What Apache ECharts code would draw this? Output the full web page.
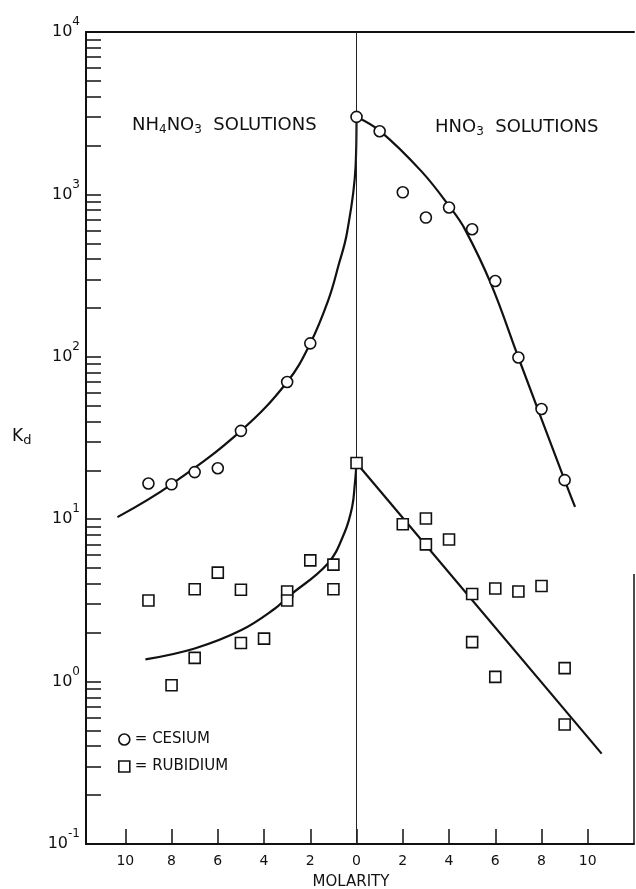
<!DOCTYPE html>
<html>
<head>
<meta charset="utf-8">
<script src="https://cdn.jsdelivr.net/npm/echarts@6/dist/echarts.min.js"></script>
<style>
  html, body { margin: 0; padding: 0; background: #fff; }
  #chart { width: 636px; height: 889px; }
</style>
</head>
<body>
<div id="chart"></div>
<script>
// Distribution coefficients Kd versus molarity of the eluting solution.
// NH4NO3 solutions are plotted to the left of zero, HNO3 solutions to the right.

// Cesium measurements
const csNH4NO3Molarity = [9, 8, 7, 6, 5, 3, 2];
const csNH4NO3Kd = [16.6, 16.4, 19.5, 20.6, 35, 70, 121];
const csHNO3Molarity = [0, 1, 2, 3, 4, 5, 6, 7, 8, 9];
const csHNO3Kd = [3000, 2450, 1030, 720, 830, 610, 293, 99, 47.7, 17.4];

// Rubidium measurements
const rbNH4NO3Molarity = [9, 8, 7, 7, 6, 5, 5, 4, 3, 3, 2, 1, 1];
const rbNH4NO3Kd = [3.16, 0.95, 3.70, 1.40, 4.69, 3.68, 1.73, 1.84, 3.59, 3.16, 5.58, 5.25, 3.70];
const rbHNO3Molarity = [0, 2, 3, 3, 4, 5, 5, 6, 6, 7, 8, 9, 9];
const rbHNO3Kd = [22.2, 9.3, 10.1, 7.0, 7.5, 3.46, 1.75, 3.74, 1.07, 3.59, 3.88, 1.21, 0.544];

// Hand-fitted trend curves
const csNH4NO3CurveM = [10.34, 8, 5, 3, 2, 1.21, 0.79, 0.41, 0.04, 0];
const csNH4NO3CurveKd = [10.3, 16.4, 35, 70, 121, 226, 361, 583, 1490, 3000];
const csHNO3CurveM = [0, 1.02, 2.8, 4.06, 4.69, 5.82, 7.0, 9.0, 9.45];
const csHNO3CurveKd = [3000, 2455, 1391, 828, 609, 280, 99, 17.4, 11.9];
const rbNH4NO3CurveM = [9.13, 7.0, 5.0, 3.54, 2.97, 1.25, 0.53, 0.19, 0.07, 0];
const rbNH4NO3CurveKd = [1.37, 1.60, 2.07, 2.81, 3.32, 5.32, 8.2, 11.9, 16.7, 22.2];
const rbHNO3LineM = [0, 10.6];
const rbHNO3LineKd = [22.2, 0.36];

// Axis ticks
const molarityTicks = [-10, -8, -6, -4, -2, 0, 2, 4, 6, 8, 10];
const kdDecades = [0.1, 1, 10, 100, 1000, 10000];
const kdMantissas = [1, 2, 3, 4, 5, 6, 7, 8, 9];

const INK = '#111';
const FONT = '"DejaVu Sans", "Liberation Sans", sans-serif';

const kdTicks = [];
kdDecades.slice(0, -1).forEach(d => kdMantissas.forEach(k => kdTicks.push(+(d * k).toPrecision(3))));
kdTicks.push(kdDecades[kdDecades.length - 1]);

// NH4NO3 side is mirrored onto negative x
const toPoints = (ms, ks, sign) => ms.map((m, i) => [m === 0 ? 0 : sign * m, ks[i]]);

const curveStyle = { color: INK, width: 2.2 };
const markerStyle = { color: '#fff', borderColor: INK, borderWidth: 1.6, opacity: 1 };

const chart = echarts.init(document.getElementById('chart'), null, { renderer: 'canvas' });

const GRID = { left: 86, right: 2, top: 32, bottom: 45 };

const subRich = (size) => ({
  m: { fontSize: size, lineHeight: 22, fill: INK, fontFamily: FONT },
  s: { fontSize: 12, lineHeight: 12, verticalAlign: 'bottom', fill: INK, fontFamily: FONT }
});

chart.setOption({
  animation: false,
  backgroundColor: '#fff',
  textStyle: { fontFamily: FONT, color: INK },
  grid: Object.assign({ outerBoundsMode: 'none', containLabel: false }, GRID),
  legend: {
    data: ['CESIUM', 'RUBIDIUM'],
    orient: 'vertical',
    left: 113,
    top: 727,
    itemWidth: 11,
    itemHeight: 11,
    itemGap: 12,
    selectedMode: false,
    formatter: '= {name}',
    itemStyle: markerStyle,
    textStyle: { fontSize: 15, color: INK, fontFamily: FONT }
  },
  xAxis: [{
    type: 'value',
    min: -11.7,
    max: 12,
    axisLine: { show: true, onZero: false, lineStyle: { color: INK, width: 2 } },
    axisTick: { show: true, inside: true, length: 15, customValues: molarityTicks, lineStyle: { color: INK, width: 1.5 } },
    axisLabel: { customValues: molarityTicks, formatter: v => String(Math.abs(v)), fontSize: 14, color: INK, margin: 10, fontFamily: FONT },
    splitLine: { show: false },
    name: 'MOLARITY',
    nameLocation: 'middle',
    nameGap: 31,
    nameTextStyle: { fontSize: 15, color: INK, fontFamily: FONT, padding: [0, 18, 0, 0] }
  }, {
    type: 'value',
    position: 'top',
    min: -11.7,
    max: 12,
    axisLine: { show: true, onZero: false, lineStyle: { color: INK, width: 2 } },
    axisTick: { show: false },
    axisLabel: { show: false },
    splitLine: { show: false }
  }],
  yAxis: {
    type: 'log',
    logBase: 10,
    min: 0.1,
    max: 10000,
    axisLine: { show: true, onZero: false, lineStyle: { color: INK, width: 2 } },
    axisTick: { show: true, inside: true, length: 15, customValues: kdTicks, lineStyle: { color: INK, width: 1.5 } },
    axisLabel: {
      customValues: kdDecades,
      margin: 6,
      showMinLabel: true,
      showMaxLabel: true,
      formatter: v => '{b|10}{e|' + Math.round(Math.log10(v)) + '}',
      rich: {
        b: { fontSize: 16, lineHeight: 32, color: INK, fontFamily: FONT },
        e: { fontSize: 12, lineHeight: 12, verticalAlign: 'top', color: INK, fontFamily: FONT }
      }
    },
    splitLine: { show: false }
  },
  graphic: [
    {
      type: 'text', left: 132, top: 116,
      style: { text: '{m|NH}{s|4}{m|NO}{s|3}{m|  SOLUTIONS}', rich: subRich(18) }
    },
    {
      type: 'text', left: 435, top: 118,
      style: { text: '{m|HNO}{s|3}{m|  SOLUTIONS}', rich: subRich(18) }
    },
    {
      type: 'text', left: 12, top: 428,
      style: {
        text: '{m|K}{s|d}',
        rich: {
          m: { fontSize: 17, lineHeight: 22, fill: INK, fontFamily: FONT },
          s: { fontSize: 13, lineHeight: 13, verticalAlign: 'bottom', fill: INK, fontFamily: FONT }
        }
      }
    },
    {
      type: 'line',
      shape: { x1: 634, y1: 574, x2: 634, y2: 889 - GRID.bottom },
      style: { stroke: INK, lineWidth: 1.5 }
    }
  ],
  series: [
    {
      name: 'Cs NH4NO3 fit', type: 'line', smooth: 0.4, showSymbol: false, symbol: 'none',
      lineStyle: curveStyle, z: 2,
      data: toPoints(csNH4NO3CurveM, csNH4NO3CurveKd, -1),
      markLine: {
        silent: true, symbol: 'none', label: { show: false },
        lineStyle: { color: '#222', width: 1, type: 'solid' },
        data: [{ xAxis: 0 }]
      }
    },
    {
      name: 'Cs HNO3 fit', type: 'line', smooth: 0.4, showSymbol: false, symbol: 'none',
      lineStyle: curveStyle, z: 2,
      data: toPoints(csHNO3CurveM, csHNO3CurveKd, 1)
    },
    {
      name: 'Rb NH4NO3 fit', type: 'line', smooth: 0.4, showSymbol: false, symbol: 'none',
      lineStyle: curveStyle, z: 2,
      data: toPoints(rbNH4NO3CurveM, rbNH4NO3CurveKd, -1)
    },
    {
      name: 'Rb HNO3 fit', type: 'line', smooth: false, showSymbol: false, symbol: 'none',
      lineStyle: curveStyle, z: 2,
      data: toPoints(rbHNO3LineM, rbHNO3LineKd, 1)
    },
    {
      name: 'CESIUM', type: 'scatter', symbol: 'circle', symbolSize: 11, z: 5,
      itemStyle: markerStyle,
      data: toPoints(csNH4NO3Molarity, csNH4NO3Kd, -1).concat(toPoints(csHNO3Molarity, csHNO3Kd, 1))
    },
    {
      name: 'RUBIDIUM', type: 'scatter', symbol: 'rect', symbolSize: 11, z: 5,
      itemStyle: markerStyle,
      data: toPoints(rbNH4NO3Molarity, rbNH4NO3Kd, -1).concat(toPoints(rbHNO3Molarity, rbHNO3Kd, 1))
    }
  ]
});
</script>
</body>
</html>
